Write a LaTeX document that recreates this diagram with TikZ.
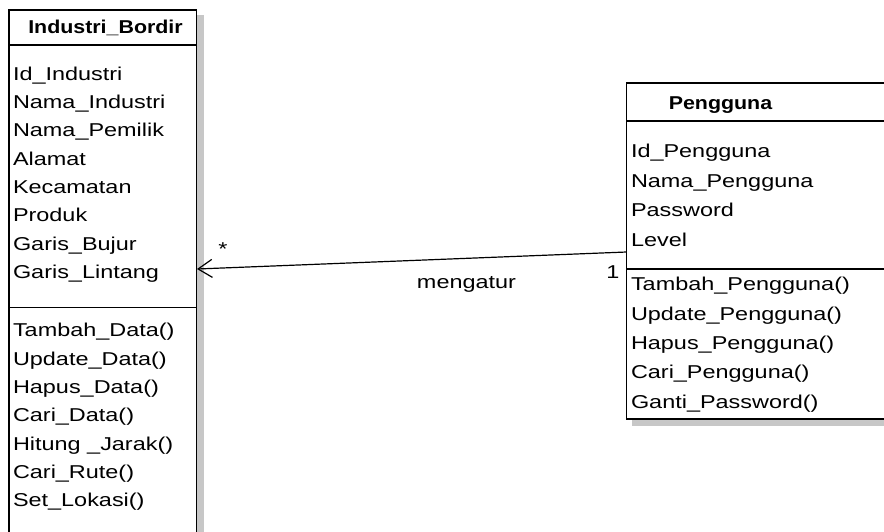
\documentclass[tikz,border=0pt]{standalone}
\usepackage{fontspec}
\setmainfont{Liberation Sans}[FakeStretch=1.26]
\newfontfamily\classtitlefont{Liberation Sans Bold}[FakeStretch=1.15]
\usetikzlibrary{arrows.meta,calc}
\begin{document}
\begin{tikzpicture}[x=1pt,y=-1pt,
  every node/.style={inner sep=0pt,outer sep=0pt,font=\fontsize{18.6}{22}\selectfont},
  classbox/.style={draw=black,line width=1.6pt,rectangle,anchor=north west},
  divider/.style={draw=black,line width=1.3pt},
  shadowfill/.style={fill=black!22,draw=none},
  member/.style={anchor=base west},
  title/.style={anchor=base,font=\fontsize{18.6}{22}\classtitlefont},
  assoc/.style={draw=black,line width=1.2pt,-{Straight Barb[length=14pt,width=18pt,line width=1.2pt]}},
  mult/.style={anchor=base}
]
\useasboundingbox (0,0) rectangle (884,531);
\clip (0,0) rectangle (884,531);
\fill[white] (0,0) rectangle (884,531);

% drop shadows
\fill[shadowfill] (197,15) rectangle (204,560);
\fill[shadowfill] (632,420) rectangle (900,426);

% class Industri_Bordir
\node[classbox,minimum width=187.5pt,minimum height=545pt] (ib) at (9,10) {};
\draw[divider] (9,45) -- (196.5,45);
\draw[divider] (9,307.5) -- (196.5,307.5);
\node[title] (ibName) at (105.5,33.5) {Industri\_Bordir};
\node[member] (ia1) at (13,80) {Id\_Industri};
\node[member] (ia2) at (13,108.3) {Nama\_Industri};
\node[member] (ia3) at (13,136.7) {Nama\_Pemilik};
\node[member] (ia4) at (13,165) {Alamat};
\node[member] (ia5) at (13,193.3) {Kecamatan};
\node[member] (ia6) at (13,221.7) {Produk};
\node[member] (ia7) at (13,250) {Garis\_Bujur};
\node[member] (ia8) at (13,278.3) {Garis\_Lintang};
\node[member] (im1) at (13,336.7) {Tambah\_Data()};
\node[member] (im2) at (13,365) {Update\_Data()};
\node[member] (im3) at (13,393.3) {Hapus\_Data()};
\node[member] (im4) at (13,421.7) {Cari\_Data()};
\node[member] (im5) at (13,450) {Hitung \_Jarak()};
\node[member] (im6) at (13,478.3) {Cari\_Rute()};
\node[member] (im7) at (13,506.7) {Set\_Lokasi()};

% class Pengguna
\node[classbox,minimum width=300pt,minimum height=336pt] (pg) at (626.5,83) {};
\draw[divider] (626.5,121) -- (900,121);
\draw[divider] (626.5,269) -- (900,269);
\node[title] (pgName) at (720.5,109) {Pengguna};
\node[member] (pa1) at (631,157.5) {Id\_Pengguna};
\node[member] (pa2) at (631,187) {Nama\_Pengguna};
\node[member] (pa3) at (631,216.5) {Password};
\node[member] (pa4) at (631,246) {Level};
\node[member] (pm1) at (631,290.5) {Tambah\_Pengguna()};
\node[member] (pm2) at (631,320) {Update\_Pengguna()};
\node[member] (pm3) at (631,349) {Hapus\_Pengguna()};
\node[member] (pm4) at (631,378.5) {Cari\_Pengguna()};
\node[member] (pm5) at (631,408) {Ganti\_Password()};

% association ends on the class borders
\coordinate (pgEnd) at ($(pg.north west)+(0,169)$);
\coordinate (ibEnd) at ($(ib.north east)+(0.5,259)$);
\draw[assoc] (pgEnd) -- (ibEnd);
\node[mult] (mStar) at (223,255) {*};
\node[mult] (mOne) at (613,278.5) {1};
\node[anchor=base] (lbl) at (466.5,288) {mengatur};
\end{tikzpicture}
\end{document}
